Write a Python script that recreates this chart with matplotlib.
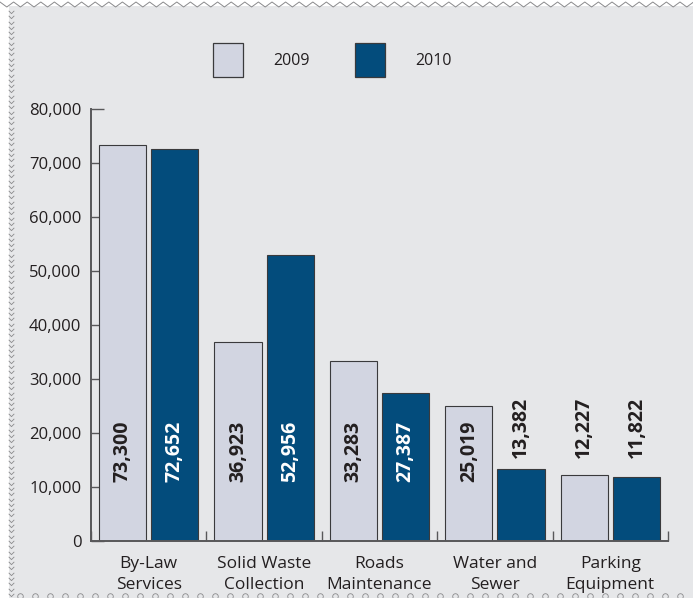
import numpy as np
import matplotlib.pyplot as plt
from matplotlib.patches import Rectangle
from matplotlib.lines import Line2D
from matplotlib.path import Path

plt.rcParams["font.family"] = ["Open Sans", "DejaVu Sans"]

categories = ["By-Law\nServices", "Solid Waste\nCollection", "Roads\nMaintenance",
              "Water and\nSewer", "Parking\nEquipment"]
years = ["2009", "2010"]
values2009 = [73300, 36923, 33283, 25019, 12227]
values2010 = [72652, 52956, 27387, 13382, 11822]

BG = "#e6e7e9"
C2009 = "#d2d5e1"
C2010 = "#034c7c"
EDGE = "#3a3a3c"
AXIS = "#58585a"
TEXT = "#231f20"

W, H = 693, 598
fig = plt.figure(figsize=(W / 100, H / 100), dpi=100, facecolor="white")

# grey panel with decorative border
fig.patches.append(Rectangle((9 / W, 0), 1, 1 - 6 / H, transform=fig.transFigure,
                             facecolor=BG, edgecolor="none", zorder=-5))
zx = np.arange(0, W + 14, 6.8)
zy = np.where(np.arange(zx.size) % 2 == 0, H - 2, H - 7)
fig.lines.append(Line2D(zx / W, zy / H, transform=fig.transFigure,
                        color="#8a8a8c", lw=0.7, zorder=-4))
chevron = Path([(-1, 0.6), (0, -0.4), (1, 0.6)], [Path.MOVETO, Path.LINETO, Path.LINETO])
cy = np.arange(H - 12, 0, -5.3)
fig.lines.append(Line2D(np.full(cy.size, 11 / W), cy / H, transform=fig.transFigure,
                        ls="none", marker=chevron, markersize=4, mfc="none",
                        mec="#8a8a8c", mew=0.6, zorder=-4))
cx = np.arange(20, W, 15)
fig.lines.append(Line2D(cx / W, np.full(cx.size, 2 / H), transform=fig.transFigure,
                        ls="none", marker="o", markersize=4, mfc="none",
                        mec="#8a8a8c", mew=0.6, zorder=-4))

ax = fig.add_axes([91 / W, (H - 541) / H, 577 / W, 432 / H])
ax.set_facecolor("none")

x = np.arange(len(categories))
bw = 0.409
ax.bar(x + 0.274, values2009, bw, color=C2009, edgecolor=EDGE, linewidth=0.8, zorder=2)
ax.bar(x + 0.726, values2010, bw, color=C2010, edgecolor=EDGE, linewidth=0.8, zorder=2)

# value labels: inside tall bars, above short ones
for xs, vals, inner in ((x + 0.274, values2009, TEXT), (x + 0.726, values2010, "white")):
    for xi, v in zip(xs, vals):
        if v > 20000:
            y, col = 10900, inner
        else:
            y, col = 15400, TEXT
        ax.text(xi, y, f"{v:,}", rotation=90, ha="center", va="bottom",
                fontsize=14, fontweight="bold", color=col, zorder=3)

ax.set_xlim(0, 5)
ax.set_ylim(0, 80000)
ax.set_yticks(np.arange(0, 80001, 10000))
ax.set_yticklabels([f"{t:,}" for t in range(0, 80001, 10000)])
ax.set_xticks(np.arange(0, 6))
ax.set_xticklabels([])
ax.set_xticks(x + 0.5, minor=True)
ax.set_xticklabels(categories, minor=True, linespacing=1.45)

ax.tick_params(axis="y", direction="in", length=9.5, width=1, color=AXIS,
               pad=7, labelsize=12, labelcolor=TEXT)
ax.tick_params(axis="x", which="major", direction="in", length=7, width=1, color=AXIS)
ax.tick_params(axis="x", which="minor", length=0, pad=10.5, labelsize=12.5, labelcolor=TEXT)

for s in ("top", "right"):
    ax.spines[s].set_visible(False)
for s in ("left", "bottom"):
    ax.spines[s].set_color(AXIS)
    ax.spines[s].set_linewidth(1.4)

# legend boxes
for (lx, label), col in zip(((213, "2009"), (355, "2010")), (C2009, C2010)):
    fig.patches.append(Rectangle((lx / W, (H - 77) / H), 30 / W, 34 / H,
                                 transform=fig.transFigure, facecolor=col,
                                 edgecolor=EDGE, linewidth=0.9, zorder=2))
    fig.text((lx + 60) / W, (H - 61) / H, label, ha="left", va="center",
             fontsize=11.5, color=TEXT)

fig.savefig("out.png", dpi=100, facecolor=fig.get_facecolor())
